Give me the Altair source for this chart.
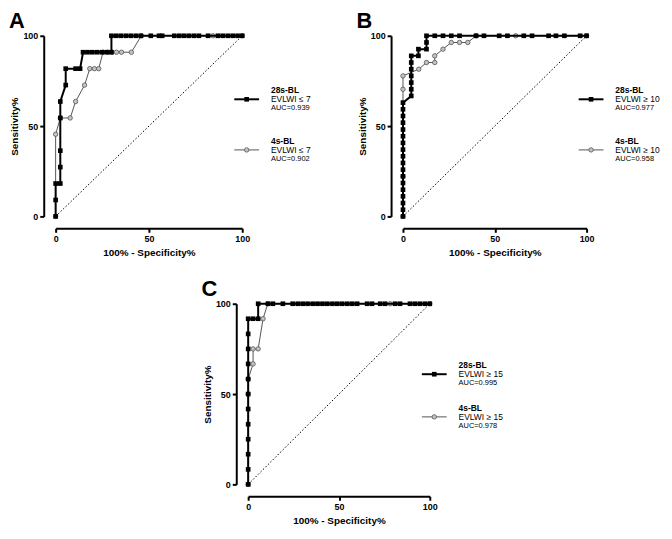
import altair as alt
import pandas as pd

FONT = "Liberation Sans"

# ---------------- data ----------------
TICKS = [0, 50, 100]
DIAG = [0, 100]
XTITLE = "100% - Specificity%"
YTITLE = "Sensitivity%"

# Panel A
A_28_x = [0, 0, 0, 2.5, 2.5, 2.5, 2.5, 2.5, 5.4, 5.4, 10.7, 13.1, 14.7, 17.1, 19.6, 22.1, 24.7, 27.3, 29.9,
          29.9, 32.5, 35.1, 37.8, 40.4, 43.1, 45.7, 51.0, 55.4, 57.1, 63.6, 66.3, 68.9, 71.5, 74.2, 76.8,
          81.7, 87.0, 89.6, 92.3, 94.9, 97.5, 100]
A_28_y = [0, 9.1, 18.2, 18.2, 27.3, 36.4, 54.5, 63.6, 72.7, 81.8, 81.8, 81.8, 90.9, 90.9, 90.9, 90.9, 90.9,
          90.9, 90.9, 100, 100, 100, 100, 100, 100, 100, 100, 100, 100, 100, 100, 100, 100, 100, 100,
          100, 100, 100, 100, 100, 100, 100]
A_4_x = [0, 0, 2.5, 7.8, 10.7, 15.5, 18.3, 20.8, 23.1, 25.4, 27.9, 30.2, 32.6, 35.3, 40.6, 45.9, 84.3, 100]
A_4_y = [0, 45.5, 54.5, 54.5, 63.6, 72.7, 81.8, 81.8, 81.8, 90.9, 90.9, 90.9, 90.9, 90.9, 90.9, 100, 100, 100]
A_LEG28 = ["28s-BL", "EVLWI \u2264 7", "AUC=0.939"]
A_LEG4 = ["4s-BL", "EVLWI \u2264 7", "AUC=0.902"]

# Panel B
B_28_x = [0, 0, 0, 0, 0, 0, 0, 0, 0, 0, 0, 0, 0, 0, 0, 0, 0, 0,
          4.5, 4.5, 4.5, 4.5, 4.5, 4.5, 4.5, 8.4, 8.4, 12.8, 12.8, 12.8,
          17.3, 21.8, 26.3, 30.8, 39.8, 44.1, 52.4, 56.9, 65.8, 70.3, 79.3, 83.3, 87.9, 96.5, 100]
B_28_y = [0, 3.7, 7.4, 11.1, 14.8, 18.5, 22.2, 25.9, 29.6, 33.3, 37.0, 40.7, 44.4, 48.1, 51.9, 55.6, 59.3, 63.0,
          66.7, 70.4, 74.1, 77.8, 81.5, 85.2, 88.9, 88.9, 92.6, 92.6, 96.3, 100,
          100, 100, 100, 100, 100, 100, 100, 100, 100, 100, 100, 100, 100, 100, 100]
B_4_x = [0, 0, 0, 0, 8.6, 12.8, 17.3, 17.3, 21.8, 26.3, 30.8, 35.3, 39.8, 61.4, 100]
B_4_y = [0, 22.2, 70.4, 77.8, 81.5, 85.2, 85.2, 88.9, 92.6, 96.3, 96.3, 96.3, 100, 100, 100]
B_LEG28 = ["28s-BL", "EVLWI \u2265 10", "AUC=0.977"]
B_LEG4 = ["4s-BL", "EVLWI \u2265 10", "AUC=0.958"]

# Panel C
C_28_x = [0, 0, 0, 0, 0, 0, 0, 0, 0, 0, 0, 0, 2.7, 5.5, 5.5,
          10.9, 13.6, 19.1, 24.5, 27.3, 30.0, 32.7, 35.5, 38.2, 40.9, 43.6, 46.4, 49.1, 51.8, 54.6, 57.3,
          60.0, 65.5, 68.2, 72.7, 75.4, 80.9, 83.6, 89.1, 91.8, 94.5, 97.3, 100]
C_28_y = [0, 8.3, 16.7, 25.0, 33.3, 41.7, 50.0, 58.3, 66.7, 75.0, 83.3, 91.7, 91.7, 91.7, 100,
          100, 100, 100, 100, 100, 100, 100, 100, 100, 100, 100, 100, 100, 100, 100, 100,
          100, 100, 100, 100, 100, 100, 100, 100, 100, 100, 100, 100]
C_4_x = [0, 0, 0, 2.7, 2.7, 5.5, 8.2, 10.8, 78.2, 100]
C_4_y = [0, 50, 58.3, 66.7, 75, 75, 91.7, 100, 100, 100]
C_LEG28 = ["28s-BL", "EVLWI \u2265 15", "AUC=0.995"]
C_LEG4 = ["4s-BL", "EVLWI \u2265 15", "AUC=0.978"]


def txt(s, x, y, size, bold=False, align="left", color="black"):
    return alt.Chart(pd.DataFrame({"t": [s]})).mark_text(
        font=FONT, fontSize=size, fontWeight="bold" if bold else "normal",
        align=align, baseline="middle", color=color
    ).encode(text="t:N", x=alt.value(x), y=alt.value(y))


def panel(letter, x28, y28, x4, y4, leg28, leg4, W, H, ly28, ly4, L, T, R, B):
    roc28 = pd.DataFrame({"x": x28, "y": y28, "i": list(range(len(x28)))})
    roc4 = pd.DataFrame({"x": x4, "y": y4, "i": list(range(len(x4)))})
    diag = pd.DataFrame({"x": DIAG, "y": DIAG})
    common = dict(
        values=TICKS, offset=12, grid=False,
        domainColor="black", domainWidth=2, tickColor="black", tickWidth=2, tickSize=4,
        labelFont=FONT, labelFontSize=9, labelFontWeight="bold", labelColor="black",
        labelPadding=2, labelFlush=False, labelOverlap=False,
        titleFont=FONT, titleFontSize=10, titleFontWeight="bold", titleColor="black",
    )
    X = alt.X("x:Q", scale=alt.Scale(domain=[0, 100], nice=False, zero=False),
              axis=alt.Axis(title=XTITLE, titlePadding=4, **common))
    Y = alt.Y("y:Q", scale=alt.Scale(domain=[0, 100], nice=False, zero=False),
              axis=alt.Axis(title=YTITLE, titlePadding=3, **common))

    one = pd.DataFrame({"t": [0]})
    # invisible frame that fixes the panel's layout bounds
    frame = alt.Chart(one).mark_rule(color="white", strokeWidth=1, opacity=0).encode(
        x=alt.value(-L), y=alt.value(-T), x2=alt.value(W + R), y2=alt.value(H + B))

    d = alt.Chart(diag).mark_line(color="black", strokeWidth=1, strokeDash=[1.5, 2]).encode(x=X, y=Y)
    l4 = alt.Chart(roc4).mark_line(color="#555555", strokeWidth=1).encode(x=X, y=Y, order="i:Q")
    p4 = alt.Chart(roc4).mark_point(shape="circle", filled=True, fill="#c4c4c4", stroke="#555555",
                                    strokeWidth=0.8, size=20, opacity=1).encode(x=X, y=Y)
    l28 = alt.Chart(roc28).mark_line(color="black", strokeWidth=2).encode(x=X, y=Y, order="i:Q")
    p28 = alt.Chart(roc28).mark_square(color="black", size=22, opacity=1).encode(x=X, y=Y)

    layers = [frame, d, l4, p4, l28, p28]
    for ly, leg, col, is28 in [(ly28, leg28, "black", True), (ly4, leg4, "#555555", False)]:
        layers.append(alt.Chart(one).mark_rule(color=col, strokeWidth=2 if is28 else 1).encode(
            x=alt.value(W - 8), x2=alt.value(W + 17), y=alt.value(ly)))
        if is28:
            layers.append(alt.Chart(one).mark_square(color="black", size=22, opacity=1).encode(
                x=alt.value(W + 4.5), y=alt.value(ly)))
        else:
            layers.append(alt.Chart(one).mark_point(shape="circle", filled=True, fill="#c4c4c4",
                                                    stroke="#555555", strokeWidth=0.8, size=20,
                                                    opacity=1).encode(
                x=alt.value(W + 4.5), y=alt.value(ly)))
        layers.append(txt(leg[0], W + 29, ly - 9, 8.5, bold=True))
        layers.append(txt(leg[1], W + 29, ly, 8.5))
        layers.append(txt(leg[2], W + 29, ly + 9, 7.5))
    layers.append(txt(letter, -39, -15, 22, bold=True, align="center"))
    return alt.layer(*layers).properties(width=W, height=H)


H = 182
pA = panel("A", A_28_x, A_28_y, A_4_x, A_4_y, A_LEG28, A_LEG4, 188, H, 64, 115, 48, 24, 80, 46)
pB = panel("B", B_28_x, B_28_y, B_4_x, B_4_y, B_LEG28, B_LEG4, 185, H, 64, 115, 48, 24, 78, 46)
pC = panel("C", C_28_x, C_28_y, C_4_x, C_4_y, C_LEG28, C_LEG4, 183, H, 71, 114, 48, 24, 80, 46)

spacer = alt.Chart(pd.DataFrame({"t": [0]})).mark_rule(color="white", opacity=0).encode(
    x=alt.value(0), x2=alt.value(1), y=alt.value(0)).properties(width=1, height=1)

top = alt.hconcat(pA, pB, spacing=34)
bottom = alt.hconcat(spacer, pC, spacing=145)
chart = alt.vconcat(top, bottom, spacing=16).properties(padding=0).configure_view(stroke=None)

chart.save("out.html", embed_options={"renderer": "svg", "actions": False})
